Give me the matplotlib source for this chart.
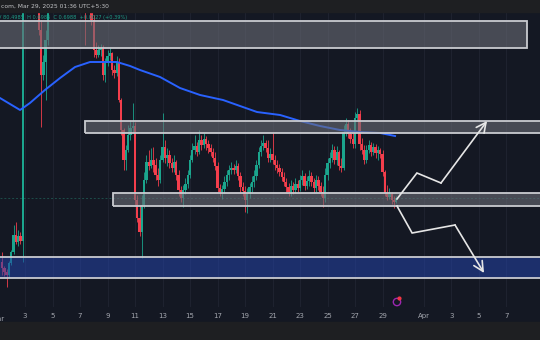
import matplotlib
matplotlib.use('Agg')
import matplotlib.pyplot as plt
from matplotlib.patches import Rectangle
import numpy as np
import pandas as pd

# 4H candles, values (price scale is arbitrary)
times = pd.date_range('2025-03-01 08:00', periods=173, freq='4h')
first_open = 0.468
closes = [0.462, 0.458, 0.455, 0.467, 0.478, 0.495, 0.488, 0.494, 0.489, 0.770,
          0.800, 0.785, 0.790, 0.775, 0.760, 0.740, 0.700, 0.655, 0.668, 0.690,
          0.740, 0.770, 0.785, 0.775, 0.795, 0.810, 0.800, 0.820, 0.805, 0.790,
          0.800, 0.780, 0.770, 0.765, 0.755, 0.750, 0.725, 0.735, 0.730, 0.710,
          0.680, 0.675, 0.680, 0.682, 0.655, 0.667, 0.674, 0.677, 0.660, 0.657,
          0.668, 0.630, 0.600, 0.570, 0.580, 0.595, 0.602, 0.604, 0.530, 0.512,
          0.498, 0.525, 0.550, 0.568, 0.564, 0.570, 0.565, 0.555, 0.550, 0.570,
          0.583, 0.572, 0.575, 0.567, 0.562, 0.568, 0.555, 0.540, 0.532, 0.540,
          0.546, 0.555, 0.570, 0.580, 0.584, 0.578, 0.590, 0.585, 0.591, 0.586,
          0.582, 0.578, 0.572, 0.564, 0.542, 0.538, 0.541, 0.548, 0.555, 0.560,
          0.562, 0.560, 0.564, 0.554, 0.543, 0.539, 0.530, 0.537, 0.543, 0.548,
          0.554, 0.565, 0.578, 0.584, 0.587, 0.582, 0.572, 0.576, 0.570, 0.565,
          0.562, 0.558, 0.553, 0.548, 0.543, 0.538, 0.544, 0.540, 0.546, 0.542,
          0.550, 0.554, 0.544, 0.549, 0.554, 0.548, 0.542, 0.550, 0.544, 0.538,
          0.532, 0.555, 0.567, 0.572, 0.580, 0.570, 0.578, 0.564, 0.562, 0.598,
          0.606, 0.596, 0.591, 0.586, 0.612, 0.616, 0.586, 0.580, 0.570, 0.580,
          0.585, 0.578, 0.583, 0.577, 0.580, 0.576, 0.558, 0.537, 0.533, 0.536,
          0.530, 0.528, 0.532]
highs = [0.478, 0.464, 0.461, 0.469, 0.480, 0.505, 0.508, 0.500, 0.498, 0.790,
         0.820, 0.810, 0.805, 0.800, 0.785, 0.770, 0.750, 0.710, 0.675, 0.700,
         0.760, 0.785, 0.800, 0.805, 0.810, 0.825, 0.830, 0.835, 0.830, 0.815,
         0.810, 0.805, 0.790, 0.780, 0.775, 0.765, 0.755, 0.750, 0.740, 0.735,
         0.715, 0.688, 0.685, 0.686, 0.685, 0.672, 0.680, 0.682, 0.678, 0.665,
         0.674, 0.672, 0.632, 0.602, 0.585, 0.605, 0.610, 0.627, 0.608, 0.535,
         0.525, 0.535, 0.558, 0.575, 0.580, 0.582, 0.583, 0.572, 0.562, 0.575,
         0.617, 0.590, 0.582, 0.580, 0.572, 0.575, 0.570, 0.560, 0.544, 0.545,
         0.552, 0.560, 0.575, 0.587, 0.595, 0.588, 0.600, 0.595, 0.597, 0.594,
         0.590, 0.586, 0.582, 0.578, 0.568, 0.546, 0.545, 0.554, 0.560, 0.565,
         0.568, 0.566, 0.570, 0.567, 0.558, 0.548, 0.544, 0.542, 0.547, 0.554,
         0.560, 0.570, 0.583, 0.590, 0.595, 0.590, 0.590, 0.582, 0.598, 0.575,
         0.570, 0.566, 0.562, 0.558, 0.552, 0.547, 0.550, 0.548, 0.552, 0.550,
         0.555, 0.560, 0.557, 0.554, 0.560, 0.558, 0.552, 0.555, 0.554, 0.548,
         0.544, 0.562, 0.572, 0.578, 0.586, 0.584, 0.584, 0.580, 0.572, 0.605,
         0.612, 0.610, 0.602, 0.598, 0.618, 0.622, 0.620, 0.592, 0.585, 0.585,
         0.590, 0.588, 0.587, 0.586, 0.584, 0.582, 0.580, 0.560, 0.545, 0.542,
         0.538, 0.534, 0.534]
lows = [0.455, 0.454, 0.443, 0.453, 0.465, 0.476, 0.486, 0.484, 0.486, 0.468,
        0.765, 0.775, 0.770, 0.760, 0.745, 0.725, 0.695, 0.603, 0.650, 0.630,
        0.685, 0.735, 0.765, 0.770, 0.770, 0.790, 0.790, 0.795, 0.795, 0.780,
        0.780, 0.770, 0.760, 0.750, 0.745, 0.735, 0.685, 0.720, 0.718, 0.705,
        0.673, 0.672, 0.673, 0.674, 0.650, 0.648, 0.664, 0.670, 0.655, 0.652,
        0.654, 0.628, 0.595, 0.560, 0.560, 0.578, 0.590, 0.597, 0.524, 0.508,
        0.494, 0.472, 0.522, 0.547, 0.560, 0.562, 0.558, 0.550, 0.544, 0.547,
        0.568, 0.567, 0.564, 0.562, 0.558, 0.558, 0.550, 0.534, 0.528, 0.523,
        0.536, 0.542, 0.552, 0.568, 0.576, 0.574, 0.576, 0.580, 0.582, 0.580,
        0.577, 0.574, 0.568, 0.560, 0.538, 0.534, 0.531, 0.537, 0.544, 0.550,
        0.556, 0.556, 0.557, 0.550, 0.538, 0.534, 0.518, 0.517, 0.532, 0.538,
        0.543, 0.550, 0.562, 0.574, 0.580, 0.578, 0.568, 0.568, 0.566, 0.560,
        0.557, 0.554, 0.549, 0.544, 0.538, 0.534, 0.534, 0.536, 0.537, 0.538,
        0.539, 0.545, 0.540, 0.541, 0.544, 0.544, 0.537, 0.538, 0.540, 0.534,
        0.523, 0.528, 0.550, 0.562, 0.568, 0.566, 0.565, 0.560, 0.558, 0.560,
        0.594, 0.592, 0.587, 0.582, 0.582, 0.610, 0.580, 0.576, 0.566, 0.567,
        0.577, 0.574, 0.575, 0.572, 0.570, 0.572, 0.554, 0.534, 0.530, 0.531,
        0.526, 0.522, 0.527]

# moving average line (days since Mar 1, price)
ma_days = [0.18, 0.91, 1.64, 2.36, 3.45, 4.55, 5.64, 6.73, 8.69, 9.64, 10.36,
           11.82, 13.27, 14.73, 16.4, 18.87, 20.55, 22.0, 23.45, 24.91, 26.36,
           27.82, 28.91]
ma_vals = [0.632, 0.626, 0.620, 0.627, 0.640, 0.652, 0.663, 0.668, 0.668,
           0.664, 0.660, 0.653, 0.642, 0.635, 0.630, 0.618, 0.615, 0.609,
           0.604, 0.600, 0.598, 0.597, 0.594]

# zones: (start day, end day, low, high)
grey_zones = [(-1.0, 38.5, 0.682, 0.709),
              (6.36, 40.0, 0.597, 0.609),
              (8.4, 40.0, 0.524, 0.537)]
blue_zone = (-1.0, 40.0, 0.452, 0.473)

# projected paths
up_days = [29.05, 30.5, 32.25, 35.6]
up_vals = [0.531, 0.557, 0.547, 0.609]
down_days = [29.05, 30.15, 33.27, 35.38]
down_vals = [0.524, 0.497, 0.505, 0.457]

tick_days = [3, 5, 7, 9, 11, 13, 15, 17, 19, 21, 23, 25, 27, 29, 32, 34, 36, 38]
tick_labels = ['3', '5', '7', '9', '11', '13', '15', '17', '19', '21', '23',
               '25', '27', '29', 'Apr', '3', '5', '7']

bg = '#141823'
green = '#1ba58d'
red = '#f43e4c'

fig = plt.figure(figsize=(5.4, 3.4), dpi=100)
fig.patch.set_facecolor(bg)
ax = fig.add_axes([0, 1 - 307 / 340, 1, 295 / 340])
ax.set_facecolor(bg)

t = ((times - pd.Timestamp('2025-03-01')) / pd.Timedelta(days=1)).values
c = np.array(closes)
o = np.array([first_open] + closes[:-1])
h = np.array(highs)
l = np.array(lows)
cols = np.where(c >= o, green, red)

for d in tick_days:
    ax.axvline(d - 1, color='#1f2330', lw=0.7, zorder=0)

ax.axhline(0.532, color='#1d4d4a', lw=0.7, ls=(0, (2, 2)), zorder=1)

ax.vlines(t, l, h, colors=cols, lw=0.7, alpha=0.85, zorder=2)
ax.bar(t, np.maximum(np.abs(c - o), 0.0015), bottom=np.minimum(o, c),
       width=0.17, color=cols, zorder=3)

ax.plot(ma_days, ma_vals, color='#2962ff', lw=1.4, zorder=4)

for x0, x1, lo, hi in grey_zones:
    ax.add_patch(Rectangle((x0, lo), x1 - x0, hi - lo, facecolor='#6a6d76',
                           alpha=0.6, edgecolor='none', zorder=5))
    ax.add_patch(Rectangle((x0, lo), x1 - x0, hi - lo, facecolor='none',
                           edgecolor='#c9cbd0', lw=1.3, zorder=6))
x0, x1, lo, hi = blue_zone
ax.add_patch(Rectangle((x0, lo), x1 - x0, hi - lo, facecolor='#2443a8',
                       alpha=0.55, edgecolor='none', zorder=5))
ax.add_patch(Rectangle((x0, lo), x1 - x0, hi - lo, facecolor='none',
                       edgecolor='#c9cbd0', lw=1.3, zorder=6))

for xs, ys in [(up_days, up_vals), (down_days, down_vals)]:
    ax.plot(xs[:-1], ys[:-1], color='#e6e6e6', lw=1.2, zorder=7,
            solid_joinstyle='miter')
    ax.annotate('', xy=(xs[-1], ys[-1]), xytext=(xs[-2], ys[-2]),
                arrowprops=dict(arrowstyle='->,head_length=0.7,head_width=0.35',
                                color='#e6e6e6', lw=1.2, shrinkA=0, shrinkB=0),
                zorder=7)

# event marker on the time axis
ax.scatter([29.05], [0.428], s=28, facecolor='none', edgecolor='#9c27b0',
           lw=1, zorder=8, clip_on=False)
ax.scatter([29.2], [0.432], s=4, color='#f23645', zorder=9, clip_on=False)

ax.set_xlim(0.182, 39.45)
ax.set_ylim(0.423, 0.718)
ax.set_xticks([d - 1 for d in tick_days])
ax.set_xticklabels(tick_labels)
ax.tick_params(axis='x', length=0, pad=4, labelsize=5, labelcolor='#a3a6ae')
ax.set_yticks([])
ax.text(0, 0.414, 'Mar', ha='center', va='top', fontsize=5,
        color='#a3a6ae', clip_on=False)
for s in ax.spines.values():
    s.set_visible(False)

ax.text(0.003, 0.7125, 'V 80.4985  H 0.6985  C 0.6988  +0.0027 (+0.39%)',
        fontsize=3.6, color='#1f9c86', va='center', zorder=4)

fig.add_artist(Rectangle((0, 1 - 12 / 340), 1, 12 / 340,
                         transform=fig.transFigure, color='#1e1f22'))
fig.add_artist(Rectangle((0, 0), 1, 18 / 340, transform=fig.transFigure,
                         color='#1e1f22'))
fig.text(0.002, 1 - 6 / 340, 'com, Mar 29, 2025 01:36 UTC+5:30', va='center',
         fontsize=4.3, color='#c2c3c6')

fig.savefig('out.png', dpi=100, facecolor=fig.get_facecolor())
